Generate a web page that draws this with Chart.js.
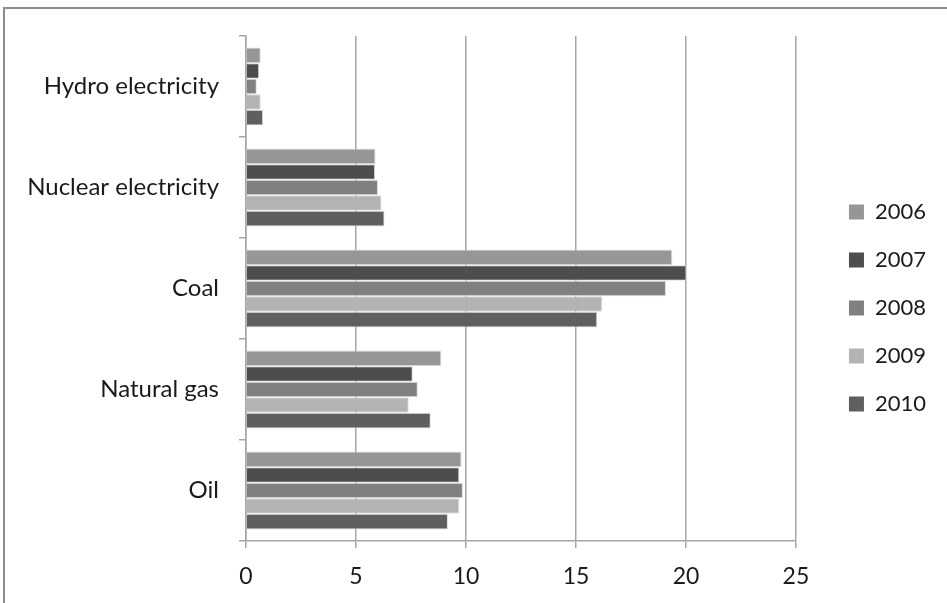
<!DOCTYPE html>
<html>
<head>
<meta charset="utf-8">
<script src="https://cdn.jsdelivr.net/npm/chart.js@4.4.1/dist/chart.umd.min.js"></script>
<style>
  html, body { margin: 0; padding: 0; background: #fff; overflow: hidden; }
  body { width: 947px; height: 603px; position: relative; }
  #frame {
    position: absolute; left: 3px; top: 7px;
    width: 960px; height: 620px;
    border: 2px solid #8c8c8c; background: #fff;
  }
  #frame canvas { display: block; }
</style>
</head>
<body>
<div id="frame"><canvas id="c" width="940" height="590"></canvas></div>
<script>
// Energy consumption by source, 2006–2010
const categories = ['Hydro electricity', 'Nuclear electricity', 'Coal', 'Natural gas', 'Oil'];
const years = ['2006', '2007', '2008', '2009', '2010'];
const v2006 = [0.67, 5.89, 19.38, 8.88, 9.80];
const v2007 = [0.60, 5.87, 20.02, 7.58, 9.70];
const v2008 = [0.49, 6.00, 19.09, 7.81, 9.86];
const v2009 = [0.67, 6.16, 16.20, 7.40, 9.70];
const v2010 = [0.78, 6.30, 15.97, 8.40, 9.18];
const xTicks = [0, 5, 10, 15, 20, 25];

const seriesValues = [v2006, v2007, v2008, v2009, v2010];
const fills = ['#969696', '#4d4d4d', '#808080', '#b3b3b3', '#5f5f5f'];
const FONT = 'Lato, "Open Sans", sans-serif';
const TEXT = '#1a1a1a';
const LINE = '#a6a6a6';

// vertical scales: no extra room above/below for half-label overhang
function noVerticalOverhang(scale) {
  scale.paddingTop = 0;
  scale.paddingBottom = 0;
}

// let the value-axis labels use the space down to the canvas edge
const xLabelRoom = {
  id: 'xLabelRoom',
  afterLayout(chart) {
    chart.scales.x.bottom = chart.height;
  }
};

new Chart(document.getElementById('c'), {
  type: 'bar',
  data: {
    labels: categories,
    datasets: years.map((y, i) => ({
      label: y,
      data: seriesValues[i],
      backgroundColor: fills[i],
      borderColor: 'rgba(220,220,220,0.9)',
      borderWidth: 1,
      categoryPercentage: 0.77,
      barPercentage: 1.0
    }))
  },
  plugins: [xLabelRoom],
  options: {
    indexAxis: 'y',
    responsive: false,
    animation: false,
    layout: { padding: { top: 27, left: 0, right: 9, bottom: 19 } },
    plugins: {
      tooltip: { enabled: false },
      legend: {
        position: 'right',
        labels: {
          font: { family: FONT, size: 22 },
          color: TEXT,
          boxWidth: 15,
          boxHeight: 15,
          padding: 26,
          generateLabels(ch) {
            return ch.data.datasets.map((d, i) => ({
              text: d.label,
              fillStyle: d.backgroundColor,
              strokeStyle: d.backgroundColor,
              lineWidth: 0,
              datasetIndex: i,
              fontColor: TEXT
            }));
          }
        }
      }
    },
    scales: {
      x: {
        min: 0, max: 25,
        afterBuildTicks(scale) { scale.ticks = xTicks.map(v => ({ value: v })); },
        afterFit(scale) { scale.height = 39; },
        grid: { color: LINE, lineWidth: 1.5, tickLength: 7 },
        border: { color: LINE, width: 1.5 },
        ticks: { font: { family: FONT, size: 23 }, color: TEXT, padding: 15 }
      },
      y: {
        afterFit(scale) { scale.width = 241; noVerticalOverhang(scale); },
        grid: {
          offset: true,
          drawOnChartArea: false,
          color: LINE,
          lineWidth: 1.5,
          tickLength: 7
        },
        border: { color: LINE, width: 1.5 },
        ticks: { font: { family: FONT, size: 24 }, color: TEXT, padding: 20 }
      },
      // empty margin between the plot and the legend
      gap: {
        type: 'linear',
        axis: 'y',
        position: 'right',
        display: true,
        grid: { display: false, drawTicks: false },
        border: { display: false },
        ticks: { display: false },
        afterFit(scale) { scale.width = 27; noVerticalOverhang(scale); }
      }
    }
  }
});
</script>
</body>
</html>
